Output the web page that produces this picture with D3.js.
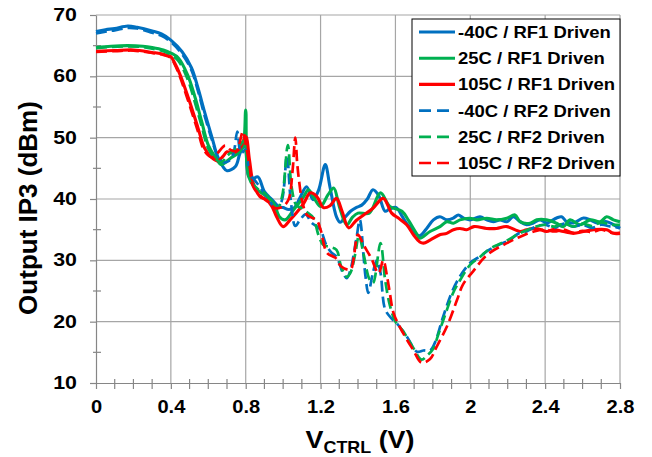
<!DOCTYPE html>
<html lang="en">
<head>
<meta charset="utf-8">
<title>Output IP3 vs VCTRL</title>
<script src="https://cdn.jsdelivr.net/npm/d3@7"></script>
<style>
  body { margin: 0; background: #fff; }
  text { font-family: Arial, "Liberation Sans", sans-serif; font-weight: bold; fill: #000; }
</style>
</head>
<body>
<script>

// series names, in legend order
var seriesNames = ["-40C / RF1 Driven", "25C / RF1 Driven", "105C / RF1 Driven",
                   "-40C / RF2 Driven", "25C / RF2 Driven", "105C / RF2 Driven"];
var seriesColors = ["#0070c0", "#00b050", "#ff0000", "#0070c0", "#00b050", "#ff0000"];
var seriesDashed = [false, false, false, true, true, true];

// [VCTRL (V), Output IP3 (dBm)]
var blueRF1 = [[0,67.3],[0.05,67.6],[0.1,67.8],[0.17,68.2],[0.22,68.0],[0.3,67.4],[0.35,66.9],[0.4,65.9],
  [0.46,64.0],[0.51,61.4],[0.545,58.1],[0.58,54.2],[0.62,50.0],[0.65,46.9],[0.68,45.2],[0.7,44.6],
  [0.745,45.3],[0.77,47.5],[0.795,48.8],[0.815,43.8],[0.835,43.3],[0.865,43.6],[0.9,41.2],[0.94,39.9],
  [0.975,38.8],[1.0,38.6],[1.03,38.3],[1.06,38.6],[1.09,40.2],[1.125,42.0],[1.16,39.9],[1.19,41.5],
  [1.225,45.6],[1.25,42.0],[1.285,37.1],[1.305,36.2],[1.33,37.0],[1.36,38.0],[1.39,38.6],[1.42,39.0],
  [1.45,40.0],[1.48,41.5],[1.51,40.6],[1.545,38.0],[1.57,38.4],[1.605,38.6],[1.63,37.5],[1.66,36.0],
  [1.7,34.6],[1.73,34.0],[1.767,35.2],[1.803,36.6],[1.838,37.1],[1.874,36.6],[1.91,36.9],[1.936,37.4],
  [1.963,36.9],[1.998,36.6],[2.052,37.1],[2.088,36.6],[2.123,36.3],[2.159,36.6],[2.195,36.3],[2.23,37.1],
  [2.266,36.3],[2.301,35.8],[2.337,36.1],[2.373,36.6],[2.408,36.1],[2.461,36.9],[2.488,37.1],[2.515,36.3],
  [2.551,36.1],[2.605,36.9],[2.64,36.6],[2.676,36.1],[2.729,36.3],[2.783,35.5],[2.8,35.2]];

var greenRF1 = [[0,64.7],[0.08,64.9],[0.17,65.0],[0.25,64.9],[0.3,64.7],[0.36,64.3],[0.4,63.8],[0.44,63.0],
  [0.49,60.2],[0.53,56.5],[0.565,52.6],[0.6,48.8],[0.64,46.7],[0.67,45.6],[0.72,46.7],[0.76,47.5],
  [0.785,48.5],[0.8,54.5],[0.815,43.7],[0.85,41.8],[0.9,40.7],[0.95,39.3],[0.98,37.1],[1.01,36.6],
  [1.055,38.2],[1.11,40.4],[1.135,41.5],[1.17,39.9],[1.2,38.8],[1.24,40.7],[1.27,41.8],[1.3,38.8],
  [1.34,35.8],[1.37,37.0],[1.4,37.7],[1.46,37.7],[1.52,41.0],[1.57,38.8],[1.635,38.0],[1.67,36.5],
  [1.71,34.5],[1.73,33.6],[1.785,34.7],[1.838,35.5],[1.874,36.3],[1.91,36.05],[1.945,36.6],[1.998,36.87],
  [2.035,36.6],[2.088,36.87],[2.141,36.6],[2.195,36.87],[2.239,37.4],[2.266,36.3],[2.319,36.05],[2.355,36.6],
  [2.408,36.6],[2.461,36.05],[2.497,35.5],[2.533,36.6],[2.587,35.8],[2.64,36.6],[2.694,36.3],[2.729,37.1],
  [2.765,36.6],[2.8,36.3]];

var redRF1 = [[0,64.1],[0.1,64.2],[0.2,64.3],[0.3,63.9],[0.36,63.6],[0.4,63.2],[0.42,62.2],[0.45,60.2],
  [0.5,55.9],[0.545,51.6],[0.58,48.3],[0.62,46.7],[0.65,46.2],[0.68,47.0],[0.7,47.7],[0.73,47.5],
  [0.77,48.3],[0.8,50.2],[0.82,46.4],[0.84,42.6],[0.876,40.4],[0.91,39.9],[0.94,38.8],[0.965,37.1],
  [1.0,35.5],[1.037,36.6],[1.07,37.7],[1.11,39.3],[1.145,41.0],[1.18,40.4],[1.215,38.6],[1.25,38.9],
  [1.285,40.1],[1.315,38.0],[1.35,35.3],[1.39,36.5],[1.43,37.4],[1.48,38.5],[1.535,40.1],[1.58,37.7],
  [1.62,36.8],[1.66,35.8],[1.7,34.0],[1.73,33.0],[1.75,32.8],[1.785,33.3],[1.84,34.2],[1.874,34.4],
  [1.91,35.0],[1.945,35.2],[1.98,35.0],[2.02,35.5],[2.088,35.2],[2.14,35.2],[2.195,35.5],[2.266,34.7],
  [2.301,35.0],[2.355,35.2],[2.408,34.7],[2.444,35.0],[2.497,34.7],[2.551,34.4],[2.605,34.7],[2.658,35.0],
  [2.729,35.0],[2.765,34.4],[2.8,34.4]];

var blueRF2 = [[0,67.0],[0.05,67.3],[0.1,67.5],[0.17,67.9],[0.22,67.8],[0.3,67.1],[0.35,66.6],[0.4,65.6],
  [0.46,63.6],[0.51,61.0],[0.545,57.6],[0.58,53.6],[0.62,49.6],[0.65,47.0],[0.68,46.0],[0.71,46.2],
  [0.735,47.5],[0.755,51.0],[0.775,47.5],[0.8,48.0],[0.82,44.2],[0.85,43.0],[0.88,41.8],[0.92,40.0],
  [0.96,38.6],[0.99,39.5],[1.02,47.0],[1.04,40.0],[1.065,35.6],[1.09,36.6],[1.12,37.5],[1.15,36.2],
  [1.18,35.5],[1.2,35.0],[1.23,32.5],[1.26,31.2],[1.285,30.6],[1.32,27.9],[1.34,27.1],[1.36,28.5],
  [1.39,33.3],[1.41,36.6],[1.43,30.6],[1.44,27.4],[1.455,24.7],[1.48,28.0],[1.5,30.0],[1.52,28.0],
  [1.545,22.0],[1.58,20.5],[1.605,19.8],[1.66,17.6],[1.715,15.1],[1.75,15.3],[1.785,15.3],[1.81,16.5],
  [1.855,20.8],[1.9,24.7],[1.945,27.4],[2.0,29.6],[2.05,30.6],[2.1,31.7],[2.15,32.5],[2.21,33.3],
  [2.26,34.4],[2.3,34.7],[2.35,35.5],[2.4,35.8],[2.45,35.3],[2.5,36.0],[2.55,35.5],[2.6,35.8],
  [2.65,35.3],[2.7,35.8],[2.75,35.5],[2.8,35.3]];

var greenRF2 = [[0,64.6],[0.08,64.8],[0.17,64.9],[0.25,64.8],[0.3,64.5],[0.36,64.1],[0.4,63.5],[0.44,62.5],
  [0.49,59.5],[0.53,55.6],[0.565,51.8],[0.6,48.2],[0.64,46.5],[0.67,46.0],[0.7,47.0],[0.73,47.8],
  [0.76,48.3],[0.79,49.5],[0.81,45.0],[0.83,42.8],[0.87,41.5],[0.9,41.0],[0.94,39.5],[0.97,38.5],
  [0.995,40.5],[1.025,48.8],[1.045,42.0],[1.07,39.0],[1.1,38.5],[1.13,37.8],[1.16,37.0],[1.19,34.0],
  [1.215,32.5],[1.25,32.2],[1.285,31.7],[1.31,29.0],[1.34,27.3],[1.36,28.0],[1.385,31.0],[1.405,34.0],
  [1.43,31.0],[1.46,27.0],[1.48,26.3],[1.52,32.8],[1.545,26.8],[1.57,22.7],[1.6,20.0],[1.64,18.5],
  [1.69,16.0],[1.74,13.8],[1.77,14.5],[1.8,15.5],[1.83,18.0],[1.87,21.5],[1.91,24.8],[1.95,27.0],
  [2.0,29.3],[2.05,30.5],[2.1,31.8],[2.15,32.6],[2.2,33.3],[2.25,34.2],[2.3,34.9],[2.35,35.5],
  [2.4,35.8],[2.45,35.5],[2.5,36.0],[2.55,35.5],[2.6,36.0],[2.65,35.6],[2.7,36.2],[2.75,35.8],[2.8,35.8]];

var redRF2 = [[0,64.0],[0.1,64.1],[0.2,64.2],[0.3,63.8],[0.36,63.5],[0.4,63.0],[0.42,62.0],[0.45,59.8],
  [0.5,55.3],[0.545,51.0],[0.58,47.8],[0.62,46.8],[0.65,47.5],[0.69,48.7],[0.72,48.0],[0.75,47.8],
  [0.785,51.0],[0.8,49.0],[0.82,45.5],[0.84,42.0],[0.88,40.5],[0.92,39.5],[0.96,38.5],[1.0,38.8],
  [1.03,40.0],[1.05,44.5],[1.065,50.0],[1.075,45.9],[1.085,43.0],[1.1,39.9],[1.125,37.5],[1.15,37.0],
  [1.18,36.5],[1.2,35.0],[1.235,31.2],[1.28,30.4],[1.31,29.0],[1.36,28.5],[1.375,30.0],[1.4,34.2],
  [1.43,32.5],[1.47,30.4],[1.51,27.9],[1.535,30.0],[1.555,27.4],[1.57,24.7],[1.59,21.4],[1.64,18.2],
  [1.695,15.4],[1.74,13.3],[1.785,13.9],[1.82,15.9],[1.875,19.2],[1.93,23.6],[1.96,26.0],[2.015,28.2],
  [2.09,30.9],[2.195,32.8],[2.27,33.9],[2.34,34.7],[2.4,35.0],[2.45,34.7],[2.5,35.0],[2.55,34.5],
  [2.6,34.8],[2.65,34.6],[2.7,35.0],[2.75,34.5],[2.8,34.5]];

var seriesData = [blueRF1, greenRF1, redRF1, blueRF2, greenRF2, redRF2];

var xTicks = [0, 0.4, 0.8, 1.2, 1.6, 2, 2.4, 2.8];
var xTickLabels = ["0", "0.4", "0.8", "1.2", "1.6", "2", "2.4", "2.8"];
var yTicks = [10, 20, 30, 40, 50, 60, 70];

var margin = {top: 15, right: 32, bottom: 74, left: 96};
var width = 652 - margin.left - margin.right;
var height = 457 - margin.top - margin.bottom;
var stretch = 1.12;   // text in the original is a bit wide

var x = d3.scaleLinear().domain([0, 2.8]).range([0, width]);
var y = d3.scaleLinear().domain([10, 70]).range([height, 0]);

var svg = d3.select("body").append("svg")
    .attr("width", 652)
    .attr("height", 457);

var g = svg.append("g")
    .attr("transform", "translate(" + margin.left + "," + margin.top + ")");

// grid
g.selectAll(".hgrid").data(yTicks.slice(1)).enter().append("line")
    .attr("x1", 0).attr("x2", width)
    .attr("y1", function(d){ return y(d); }).attr("y2", function(d){ return y(d); })
    .attr("stroke", "#a6a6a6").attr("stroke-width", 1.2);
g.selectAll(".vgrid").data(xTicks.slice(1)).enter().append("line")
    .attr("y1", 0).attr("y2", height)
    .attr("x1", function(d){ return x(d); }).attr("x2", function(d){ return x(d); })
    .attr("stroke", "#a6a6a6").attr("stroke-width", 1.2);

// axes
var xAxis = d3.axisBottom(x).tickValues(xTicks).tickSize(6).tickSizeOuter(0)
    .tickPadding(12).tickFormat(function(d, i){ return xTickLabels[i]; });
var yAxis = d3.axisLeft(y).tickValues(yTicks).tickSize(6).tickSizeOuter(0)
    .tickPadding(13).tickFormat(d3.format("d"));

var gx = g.append("g").attr("transform", "translate(0," + height + ")").call(xAxis);
var gy = g.append("g").call(yAxis);

[gx, gy].forEach(function(a){
  a.select(".domain").attr("stroke", "#868686").attr("stroke-width", 1.2);
  a.selectAll(".tick line").attr("stroke", "#868686").attr("stroke-width", 1.2);
  a.selectAll(".tick text").attr("font-size", 17.5).attr("font-family", "Arial, 'Liberation Sans', sans-serif")
    .attr("font-weight", "bold").attr("fill", "#000");
});

// widen the tick labels a little, like the original
gx.selectAll(".tick text").each(function(){
  var t = d3.select(this);
  t.attr("transform", "translate(0," + t.attr("y") + ") scale(1.15,1)").attr("y", 0);
});
gy.selectAll(".tick text").each(function(){
  var t = d3.select(this);
  t.attr("transform", "translate(" + t.attr("x") + ",0) scale(1.22,1)").attr("x", 0);
});

// minor ticks
var xMinor = d3.range(1, 28).map(function(i){ return i / 10; })
    .filter(function(d){ return Math.abs(d / 0.4 - Math.round(d / 0.4)) > 1e-6; });
g.selectAll(".xminor").data(xMinor).enter().append("line")
    .attr("x1", function(d){ return x(d); }).attr("x2", function(d){ return x(d); })
    .attr("y1", height - 4).attr("y2", height + 6)
    .attr("stroke", "#868686").attr("stroke-width", 1.2);
var yMinor = [15, 25, 35, 45, 55, 65];
g.selectAll(".yminor").data(yMinor).enter().append("line")
    .attr("y1", function(d){ return y(d); }).attr("y2", function(d){ return y(d); })
    .attr("x1", -3).attr("x2", 5)
    .attr("stroke", "#868686").attr("stroke-width", 1.2);

// lines
var line = d3.line()
    .x(function(d){ return x(d[0]); })
    .y(function(d){ return y(d[1]); })
    .curve(d3.curveCatmullRom.alpha(0.5));

g.selectAll(".series").data(seriesData).enter().append("path")
    .attr("d", line)
    .attr("fill", "none")
    .attr("stroke", function(d, i){ return seriesColors[i]; })
    .attr("stroke-width", function(d, i){ return seriesDashed[i] ? 2.7 : 3.1; })
    .attr("stroke-dasharray", function(d, i){ return seriesDashed[i] ? "11,5" : null; })
    .attr("stroke-linejoin", "round");

// legend
var legend = svg.append("g").attr("transform", "translate(412,19)");
legend.append("rect")
    .attr("x", 0).attr("y", 0).attr("width", 208).attr("height", 157)
    .attr("fill", "#fff").attr("stroke", "#000").attr("stroke-width", 1);

var items = legend.selectAll(".item").data(seriesNames).enter().append("g")
    .attr("transform", function(d, i){ return "translate(0," + (13 + i * 26.2) + ")"; });
items.append("line")
    .attr("x1", 7).attr("x2", 43).attr("y1", 0).attr("y2", 0)
    .attr("stroke", function(d, i){ return seriesColors[i]; })
    .attr("stroke-width", function(d, i){ return seriesDashed[i] ? 2.7 : 3.1; })
    .attr("stroke-dasharray", function(d, i){ return seriesDashed[i] ? "12,6" : null; });
items.append("text")
    .attr("transform", "translate(46,6) scale(" + stretch + ",1)")
    .attr("font-size", 16.5)
    .text(function(d){ return d; });

// axis titles
var xt = svg.append("text")
    .attr("transform", "translate(" + (margin.left + width / 2 + 2) + ",448) scale(" + stretch + ",1)")
    .attr("text-anchor", "middle")
    .attr("font-size", 24);
xt.append("tspan").text("V");
xt.append("tspan").attr("font-size", 16).attr("dy", 5).text("CTRL");
xt.append("tspan").attr("dy", -5).text(" (V)");

svg.append("text")
    .attr("transform", "translate(37," + (margin.top + height / 2 + 9) + ") rotate(-90)")
    .attr("text-anchor", "middle")
    .attr("font-size", 26)
    .text("Output IP3 (dBm)");

</script>
</body>
</html>
